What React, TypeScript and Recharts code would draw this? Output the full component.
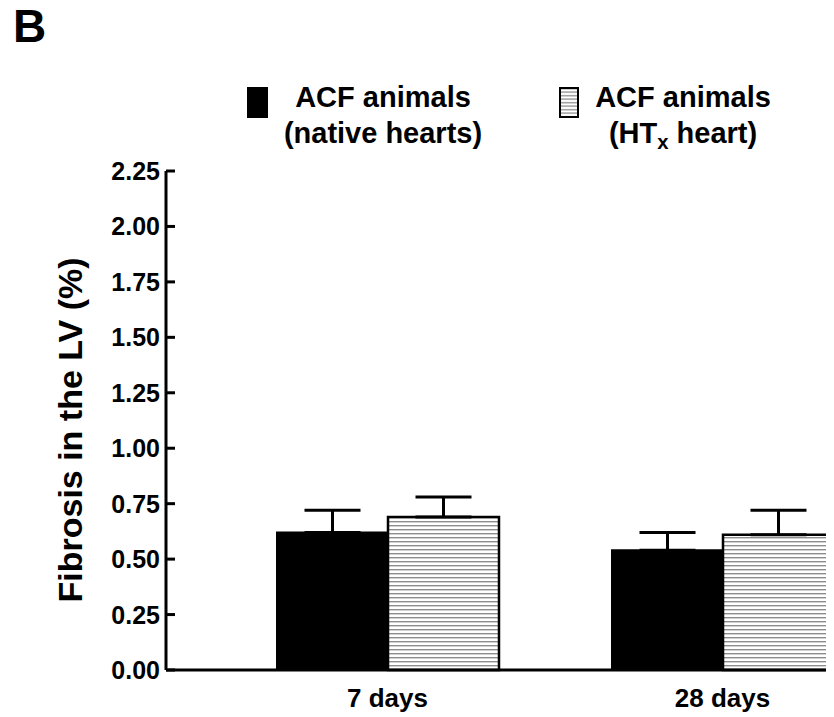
import { Bar, BarChart, ErrorBar, Label, Legend, XAxis, YAxis } from "recharts";

const categories = ["7 days", "28 days"];
const nativeMean = [0.62, 0.54];
const nativeSem = [0.1, 0.08];
const htxMean = [0.69, 0.61];
const htxSem = [0.09, 0.11];
const yTicks = [0, 0.25, 0.5, 0.75, 1, 1.25, 1.5, 1.75, 2, 2.25];

const seriesLine1 = ["ACF animals", "ACF animals"];
const seriesLine2 = ["(native hearts)", "(HT|x| heart)"];

const data = categories.map((name, i) => ({
  name,
  native: nativeMean[i],
  nativeErr: [0, nativeSem[i]],
  htx: htxMean[i],
  htxErr: [0, htxSem[i]],
}));

const FONT = '"Liberation Sans", Arial, sans-serif';

function YTick({ x, y, payload }: any) {
  return (
    <g>
      <line x1={x} x2={x + 9} y1={y} y2={y} stroke="#000" strokeWidth={3} />
      <text
        x={x - 6}
        y={y + 9}
        textAnchor="end"
        fontFamily={FONT}
        fontWeight="bold"
        fontSize={25}
        fill="#000"
      >
        {Number(payload.value).toFixed(2)}
      </text>
    </g>
  );
}

function XTick({ x, y, payload }: any) {
  return (
    <text
      x={x}
      y={y + 37}
      textAnchor="middle"
      fontFamily={FONT}
      fontWeight="bold"
      fontSize={26}
      fill="#000"
    >
      {payload.value}
    </text>
  );
}

function YTitle() {
  return (
    <text
      transform="translate(74,422) rotate(-90)"
      textAnchor="middle"
      fontFamily={FONT}
      fontWeight="bold"
      fontSize={34}
      fill="#000"
    >
      Fibrosis in the LV (%)
    </text>
  );
}

// renders "a|b|c" as a + subscript b + c
function withSub(s: string) {
  const parts = s.split("|");
  if (parts.length < 3) return s;
  return (
    <>
      {parts[0]}
      <span style={{ fontSize: "0.7em", verticalAlign: "-0.3em" }}>{parts[1]}</span>
      {parts[2]}
    </>
  );
}

function StripeBox() {
  return (
    <svg width={20} height={31} style={{ display: "block" }}>
      <rect x={1} y={1} width={18} height={29} fill="url(#legendStripes)" stroke="#000" strokeWidth={2} />
      <defs>
        <pattern id="legendStripes" width={4} height={3.5} patternUnits="userSpaceOnUse">
          <rect width={4} height={3.5} fill="#fff" />
          <rect y={1} width={4} height={1.3} fill="#8c8c8c" />
        </pattern>
      </defs>
    </svg>
  );
}

function LegendBlock() {
  const entries = [
    { box: 239, center: 375, swatch: <div style={{ width: 21, height: 31, background: "#000" }} /> },
    { box: 551, center: 675, swatch: <StripeBox /> },
  ];
  return (
    <div style={{ position: "relative", width: 826, height: 160, fontFamily: FONT, fontWeight: "bold" }}>
      {entries.map((e, i) => (
        <div key={i}>
          <div style={{ position: "absolute", left: e.box, top: 79 }}>{e.swatch}</div>
          <div
            style={{
              position: "absolute",
              left: e.center - 150,
              top: 71,
              width: 300,
              textAlign: "center",
              fontSize: 29,
              lineHeight: "36px",
              color: "#000",
            }}
          >
            <div>{seriesLine1[i]}</div>
            <div>{withSub(seriesLine2[i])}</div>
          </div>
        </div>
      ))}
    </div>
  );
}

export default function App() {
  return (
    <div style={{ position: "relative", width: 826, height: 709 }}>
      <div
        style={{
          position: "absolute",
          left: 5,
          top: 0,
          fontFamily: FONT,
          fontWeight: "bold",
          fontSize: 46,
          lineHeight: "36px",
          zIndex: 2,
        }}
      >
        B
      </div>
      <div style={{ width: 826, height: 709, overflow: "hidden" }}>
        <BarChart
          width={900}
          height={709}
          data={data}
          margin={{ top: 163, right: 18, bottom: 7, left: 78 }}
          barSize={111}
          barGap={0}
        >
          <defs>
            <pattern id="hstripes" width={4} height={4} patternUnits="userSpaceOnUse">
              <rect width={4} height={4} fill="#fff" />
              <rect y={1} width={4} height={1.4} fill="#8c8c8c" />
            </pattern>
          </defs>
          <XAxis
            dataKey="name"
            height={40}
            padding={{ left: 54, right: 0 }}
            axisLine={{ stroke: "#000", strokeWidth: 3 }}
            tickLine={false}
            tickSize={0}
            tickMargin={0}
            tick={<XTick />}
          />
          <YAxis
            width={80}
            domain={[0, 2.25]}
            ticks={yTicks}
            interval={0}
            axisLine={{ stroke: "#000", strokeWidth: 3 }}
            tickLine={false}
            tickSize={0}
            tickMargin={0}
            tick={<YTick />}
          >
            <Label content={<YTitle />} />
          </YAxis>
          <Legend
            layout="horizontal"
            verticalAlign="middle"
            align="center"
            wrapperStyle={{ top: 0, left: 0, width: 826 }}
            content={<LegendBlock />}
          />
          <Bar dataKey="native" fill="#000" stroke="#000" strokeWidth={2} isAnimationActive={false}>
            <ErrorBar dataKey="nativeErr" width={28} stroke="#000" strokeWidth={3} isAnimationActive={false} />
          </Bar>
          <Bar dataKey="htx" fill="url(#hstripes)" stroke="#000" strokeWidth={2.5} isAnimationActive={false}>
            <ErrorBar dataKey="htxErr" width={28} stroke="#000" strokeWidth={3} isAnimationActive={false} />
          </Bar>
        </BarChart>
      </div>
    </div>
  );
}
